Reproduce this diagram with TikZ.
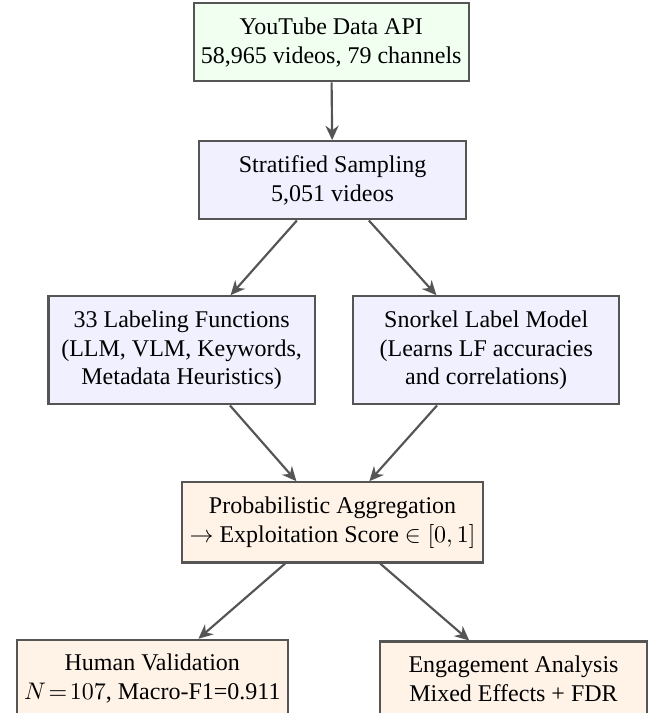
\documentclass[tikz,border=0pt]{standalone}
\usepackage{fontspec}
\setmainfont{Liberation Serif}
\usetikzlibrary{arrows.meta}
\definecolor{framegray}{HTML}{555555}
\definecolor{srcgreen}{HTML}{F0FFF0}
\definecolor{procblue}{HTML}{F0F0FF}
\definecolor{outorange}{HTML}{FFF3E8}
\begin{document}
\begin{tikzpicture}
        \tikzstyle{block} = [rectangle, text=black, align=center, draw=framegray, line width=.9pt, minimum width=3.9cm, inner xsep=3pt, inner ysep=6pt]
        \tikzstyle{line} = [-{Stealth[length=6pt,width=5.5pt]},draw=framegray,line width=.9pt]
        \useasboundingbox (0,0) rectangle (9.504,-10.441);
        \node[block,fill=srcgreen] (api) at (4.85,-.62) {YouTube Data API\\58,965 videos, 79 channels};
        \node[block,fill=procblue] (sampling) at (4.87,-2.64) {Stratified Sampling\\5,051 videos};
        \node[block,fill=procblue] (lfs) at (2.66,-5.13) {33 Labeling Functions\\(LLM, VLM, Keywords,\\Metadata Heuristics)};
        \node[block,fill=procblue] (snorkel) at (7.12,-5.13) {Snorkel Label Model\\(Learns LF accuracies\\and correlations)};
        \node[block,fill=outorange] (agg) at (4.87,-7.65) {Probabilistic Aggregation\\$\rightarrow$ Exploitation Score $\in[0, 1]$};
        \node[block,fill=outorange] (human) at (2.23,-9.94) {Human Validation\\$N\!=\!107$, Macro-F1=0.911};
        \node[block,fill=outorange] (engage) at (7.52,-9.94) {Engagement Analysis\\Mixed Effects + FDR};
        \draw[line] (api) to (sampling);
        \draw[line] (sampling) to (lfs);
        \draw[line] (sampling) to (snorkel);
        \draw[line] (lfs) to (agg);
        \draw[line] (snorkel) to (agg);
        \draw[line] (agg) to (human);
        \draw[line] (agg) to (engage);
    \end{tikzpicture}
\end{document}
